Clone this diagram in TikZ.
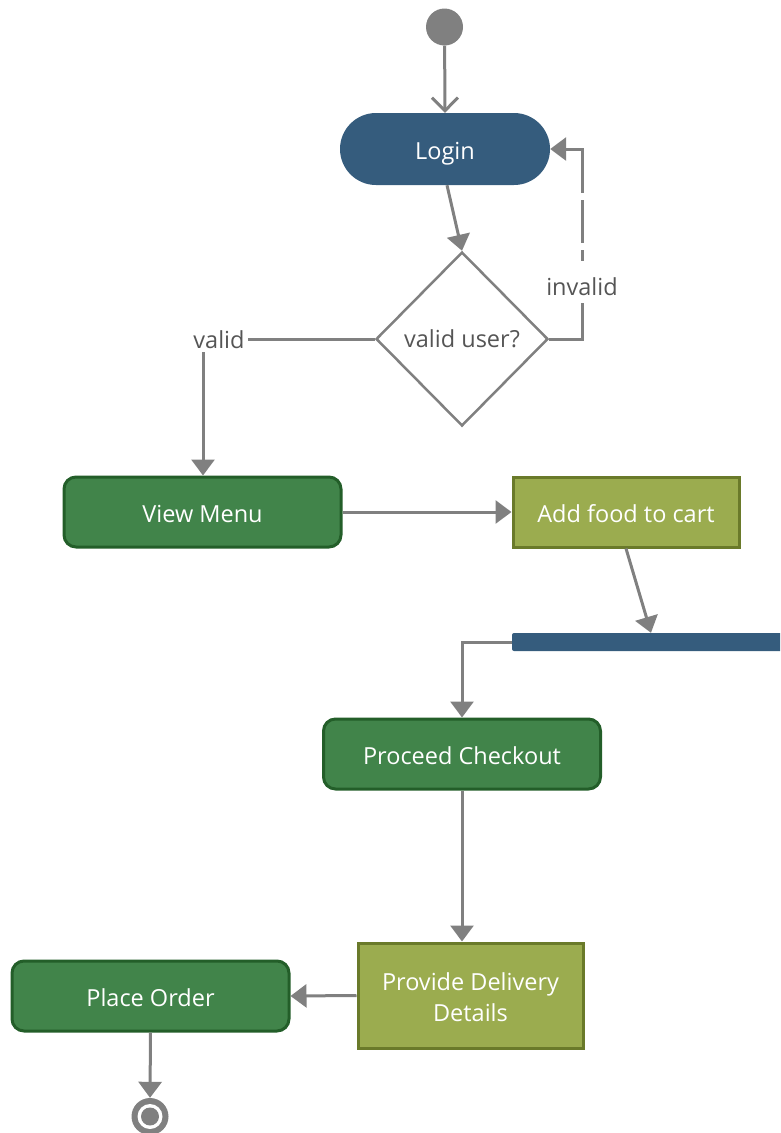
\documentclass[tikz,border=0pt]{standalone}
\usepackage{fontspec}
\setmainfont{Open Sans}
\usetikzlibrary{shapes.geometric,arrows.meta,calc}
\definecolor{dblue}{HTML}{355C7D}
\definecolor{gfill}{HTML}{41844A}
\definecolor{gdraw}{HTML}{235E29}
\definecolor{ofill}{HTML}{9BAC4F}
\definecolor{odraw}{HTML}{6A7A2A}
\definecolor{lgray}{HTML}{808080}
\definecolor{tgray}{HTML}{555555}
\begin{document}
\begin{tikzpicture}[x=1pt,y=-1pt,
  font=\fontsize{23.5}{31}\selectfont,
  conn/.style={draw=lgray,line width=3pt,-{Triangle[length=16pt,width=23pt]}},
  oneline/.style={text height=21pt,text depth=0pt},
  greenbox/.style={rectangle,rounded corners=12pt,fill=gfill,draw=gdraw,line width=3pt,text=white,minimum width=277pt,minimum height=70pt,inner sep=0pt,oneline},
  olivebox/.style={rectangle,fill=ofill,draw=odraw,line width=3pt,text=white,inner sep=0pt,align=center},
  lbl/.style={text=tgray,inner sep=3pt}]
\useasboundingbox (0,0) rectangle (780,1133);
\begin{scope}
\clip (0,0) rectangle (780,1133);
\node[circle,fill=lgray,minimum size=37pt,inner sep=0pt] (start) at (444.5,27) {};
\node[rectangle,rounded corners=36pt,fill=dblue,text=white,minimum width=210pt,minimum height=72pt,inner sep=0pt,oneline] (login) at (445,149) {Login};
\node[diamond,draw=lgray,line width=2.5pt,fill=white,minimum width=172pt,minimum height=174pt,inner sep=0pt,label={[text=tgray]center:valid user?}] (dec) at (462,339) {};
\node[greenbox] (menu) at (202.5,512) {View Menu};
\node[olivebox,oneline,minimum width=226pt,minimum height=70pt] (cart) at (626,512) {Add food to cart};
\node[rectangle,rounded corners=2pt,fill=dblue,minimum width=280pt,minimum height=18pt,inner sep=0pt] (bar) at (652,642) {};
\node[greenbox] (checkout) at (462,754) {Proceed Checkout};
\node[olivebox,minimum width=225pt,minimum height=105pt,text height=52pt,text depth=0pt] (deliv) at (470.5,995.5) {Provide Delivery\\Details};
\node[greenbox] (place) at (150.5,996) {Place Order};
\node[circle,fill=lgray,minimum size=37pt,inner sep=0pt] (end) at (150,1116.5) {};
\fill[white] (end.center) circle (12.5pt);
\fill[lgray] (end.center) circle (9pt);
% connectors
\draw[draw=lgray,line width=3pt,-{Straight Barb[length=13pt,width=26pt,line width=3pt]}] (start) -- (login.north);
\draw[conn] ([xshift=2pt]login.south) -- (dec.north);
\coordinate (vc) at (203,339);
\draw[conn] (dec.west) -- (vc) -- (menu.north -| vc);
\node[lbl,fill=white] (vlab) at (219,340) {valid};
\coordinate (ic) at (582,339);
\draw[conn,dash pattern=on 69pt off 42pt on 11pt off 7pt on 43pt off 7pt on 400pt] (dec.east) -- (ic) -- (ic |- login.east) -- (login.east);
\node[lbl] (ilab) at (582,287) {invalid};
\draw[conn] (menu.east) -- (cart.west);
\draw[conn] (cart.south) -- ([xshift=-1pt]bar.north);
\coordinate (bc) at (462,642);
\draw[conn] (bar.west) -- (bc) -- (checkout.north);
\draw[conn] (checkout.south) -- (checkout.south |- deliv.north);
\draw[conn] (deliv.west) -- (place.east);
\draw[conn] (place.south) -- (end.north);
\end{scope}
\end{tikzpicture}
\end{document}
